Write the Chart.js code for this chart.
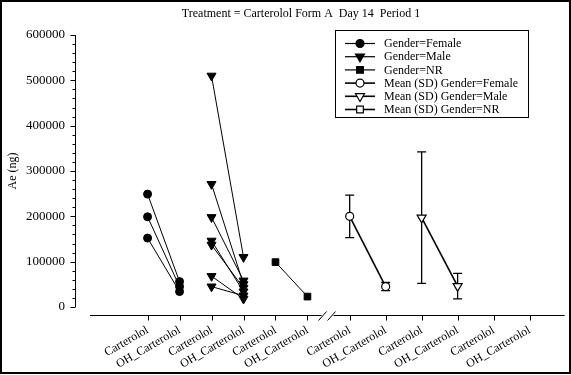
<!DOCTYPE html>
<html>
<head>
<meta charset="utf-8">
<script src="https://cdn.jsdelivr.net/npm/chart.js@4.4.1/dist/chart.umd.min.js"></script>
<style>
  html, body { margin: 0; padding: 0; background: #ffffff; }
  canvas { display: block; }
</style>
</head>
<body>
<canvas id="chartAe" width="571" height="375"></canvas>
<script>
// ============================================================
// DATA
// ============================================================
const titleText = 'Treatment = Carterolol Form A  Day 14  Period 1';
const yTitle = 'Ae (ng)';
const xLabels = ['Carterolol', 'OH_Carterolol'];
const genders = ['Female', 'Male', 'NR'];

// individual subjects (Carterolol -> OH_Carterolol)
const femaleCarterolol = [249000, 199000, 152000];
const femaleOH = [56000, 45000, 34000];
const maleCarterolol = [510000, 271000, 198000, 146000, 137000, 68000, 45000];
const maleOH = [110000, 50000, 58000, 34000, 42000, 18000, 25000];
const nrCarterolol = [99000];
const nrOH = [23000];

// mean (SD) per gender
const meanFemale = [200000, 45000];
const sdFemale = [47000, 9000];
const meanMale = [197000, 46000];
const sdMale = [145000, 28000];
const meanNR = [];
const sdNR = [];

const yTicks = [0, 100000, 200000, 300000, 400000, 500000, 600000];

// ============================================================
// LAYOUT HELPERS
// ============================================================
const FONT = "'Liberation Serif', 'Times New Roman', serif";
const markerStyle = ['circle', 'triangle', 'rect'];
const markerRot = [0, 180, 0];
const markerRad = [4, 5.2, 4.7];

// slot positions along the x axis: left panel, then the panel after the break
let leftSlots = [0, 1, 2, 3, 4, 5].map(i => 1 + i);
let rightSlots = [0, 1, 2, 3, 4, 5].map(i => 7.32 + i * 1.125);
let allSlots = leftSlots.concat(rightSlots);

let individual = [
    [femaleCarterolol, femaleOH],
    [maleCarterolol, maleOH],
    [nrCarterolol, nrOH]
];
let means = [meanFemale, meanMale, meanNR];
let sds = [sdFemale, sdMale, sdNR];

let datasets = [];
individual.forEach((pair, g) => {
    pair[0].forEach((v, i) => {
        datasets.push({
            data: [{ x: leftSlots[g * 2], y: v }, { x: leftSlots[g * 2 + 1], y: pair[1][i] }],
            showLine: true,
            borderColor: '#000000',
            borderWidth: 1,
            pointStyle: markerStyle[g],
            rotation: markerRot[g],
            pointRadius: markerRad[g],
            pointBackgroundColor: '#000000',
            pointBorderColor: '#000000',
            pointBorderWidth: 1
        });
    });
});
means.forEach((m, g) => {
    if (m.length === 0) return;
    datasets.push({
        data: m.map((v, k) => ({ x: rightSlots[g * 2 + k], y: v })),
        sd: sds[g],
        isMean: true,
        showLine: true,
        borderColor: '#000000',
        borderWidth: 1.6,
        pointStyle: markerStyle[g],
        rotation: markerRot[g],
        pointRadius: markerRad[g],
        pointBackgroundColor: '#ffffff',
        pointBorderColor: '#000000',
        pointBorderWidth: 1.2
    });
});

// ============================================================
// PLUGINS
// ============================================================
function drawMarker(ctx, style, x, y, r, filled) {
    ctx.beginPath();
    if (style === 'circle') {
        ctx.arc(x, y, r, 0, Math.PI * 2);
    } else if (style === 'triangle') {
        let h = r;
        ctx.moveTo(x, y + h);
        ctx.lineTo(x - h * 0.866, y - h * 0.5);
        ctx.lineTo(x + h * 0.866, y - h * 0.5);
        ctx.closePath();
    } else {
        let s = r * Math.SQRT1_2;
        ctx.rect(x - s, y - s, 2 * s, 2 * s);
    }
    ctx.fillStyle = filled ? '#000000' : '#ffffff';
    ctx.fill();
    ctx.lineWidth = 1.2;
    ctx.strokeStyle = '#000000';
    ctx.stroke();
}

const errorBars = {
    id: 'errorBars',
    beforeDatasetsDraw(chart) {
        let ctx = chart.ctx;
        let ys = chart.scales.y;
        ctx.save();
        ctx.strokeStyle = '#000000';
        ctx.lineWidth = 1.3;
        chart.data.datasets.forEach((ds, di) => {
            if (!ds.isMean) return;
            let meta = chart.getDatasetMeta(di);
            meta.data.forEach((pt, k) => {
                let top = ys.getPixelForValue(ds.data[k].y + ds.sd[k]);
                let bot = ys.getPixelForValue(ds.data[k].y - ds.sd[k]);
                ctx.beginPath();
                ctx.moveTo(pt.x, top); ctx.lineTo(pt.x, bot);
                ctx.moveTo(pt.x - 4.5, top); ctx.lineTo(pt.x + 4.5, top);
                ctx.moveTo(pt.x - 4.5, bot); ctx.lineTo(pt.x + 4.5, bot);
                ctx.stroke();
            });
        });
        ctx.restore();
    }
};

const sigmaFrame = {
    id: 'sigmaFrame',
    afterDraw(chart) {
        let ctx = chart.ctx;
        let xs = chart.scales.x, ys = chart.scales.y;
        let area = chart.chartArea;
        ctx.save();
        ctx.strokeStyle = '#000000';
        ctx.fillStyle = '#000000';

        // outer frame
        ctx.lineWidth = 2;
        ctx.strokeRect(1, 1, 569, 372);

        // title
        ctx.font = '12px ' + FONT;
        ctx.textAlign = 'center';
        ctx.textBaseline = 'middle';
        ctx.fillText(titleText, 301, 14);

        // y axis (offset to the left of the plot)
        ctx.lineWidth = 1;
        let axX = 75.5;
        let yTop = ys.getPixelForValue(yTicks[yTicks.length - 1]);
        let yBot = ys.getPixelForValue(yTicks[0]);
        ctx.beginPath();
        ctx.moveTo(axX, yTop); ctx.lineTo(axX, yBot);
        for (let v = yTicks[0]; v <= yTicks[yTicks.length - 1]; v += 20000) {
            let py = Math.round(ys.getPixelForValue(v)) + 0.5;
            let len = (v % 100000 === 0) ? 5 : 3;
            ctx.moveTo(axX, py); ctx.lineTo(axX - len, py);
        }
        ctx.stroke();

        // x axis (offset below the plot) with a break
        let axY = area.bottom + 8.5;
        let brk = (xs.getPixelForValue(leftSlots[5]) + xs.getPixelForValue(rightSlots[0])) / 2 - 1;
        ctx.beginPath();
        ctx.moveTo(area.left, axY); ctx.lineTo(brk - 6, axY);
        ctx.moveTo(brk + 6, axY); ctx.lineTo(area.right, axY);
        allSlots.forEach(v => {
            let px = Math.round(xs.getPixelForValue(v)) + 0.5;
            ctx.moveTo(px, axY); ctx.lineTo(px, axY + 5);
        });
        ctx.moveTo(brk - 9, axY + 5); ctx.lineTo(brk - 1, axY - 4);
        ctx.moveTo(brk, axY + 5); ctx.lineTo(brk + 8, axY - 4);
        ctx.stroke();

        // legend
        let lx = 335.5, ly = 30.5, lw = 193, lh = 87;
        ctx.lineWidth = 1;
        ctx.fillStyle = '#ffffff';
        ctx.fillRect(lx, ly, lw, lh);
        ctx.strokeRect(lx, ly, lw, lh);
        let entries = [];
        genders.forEach((g, i) => entries.push({ text: 'Gender=' + g, g: i, filled: true }));
        genders.forEach((g, i) => entries.push({ text: 'Mean (SD) Gender=' + g, g: i, filled: false }));
        ctx.font = '12px ' + FONT;
        ctx.textAlign = 'left';
        ctx.textBaseline = 'middle';
        entries.forEach((e, i) => {
            let ry = ly + 13 + i * 13.2;
            ctx.strokeStyle = '#000000';
            ctx.lineWidth = e.filled ? 1.2 : 1.6;
            ctx.beginPath();
            ctx.moveTo(345, ry); ctx.lineTo(375, ry);
            ctx.stroke();
            drawMarker(ctx, markerStyle[e.g], 360, ry, markerRad[e.g], e.filled);
            ctx.fillStyle = '#000000';
            ctx.fillText(e.text, 384, ry + 0.5);
        });
        ctx.restore();
    }
};

// ============================================================
// CHART
// ============================================================
Chart.defaults.font.family = FONT;
Chart.defaults.color = '#000000';

new Chart(document.getElementById('chartAe').getContext('2d'), {
    type: 'scatter',
    data: { datasets: datasets },
    options: {
        responsive: false,
        animation: false,
        devicePixelRatio: 1,
        layout: { padding: { left: 0, right: 6, top: 35, bottom: 0 } },
        plugins: {
            legend: { display: false },
            tooltip: { enabled: false },
            title: { display: false }
        },
        scales: {
            x: {
                type: 'linear',
                min: -0.8,
                max: 14.04,
                grid: { display: false, drawTicks: false },
                border: { display: false },
                afterBuildTicks: (scale) => { scale.ticks = allSlots.map(v => ({ value: v })); },
                afterFit: (scale) => { scale.height = 68; },
                ticks: {
                    autoSkip: false,
                    minRotation: 30,
                    maxRotation: 30,
                    padding: 16,
                    font: { size: 12 },
                    callback: (value, index) => xLabels[index % 2]
                }
            },
            y: {
                min: yTicks[0],
                max: yTicks[yTicks.length - 1],
                grid: { display: false, drawTicks: false },
                border: { display: false },
                afterFit: (scale) => { scale.width = 90; },
                title: {
                    display: true,
                    text: yTitle,
                    font: { size: 12 },
                    padding: { top: 6, bottom: 0 }
                },
                ticks: {
                    stepSize: 100000,
                    padding: 25,
                    font: { size: 13 },
                    callback: (v) => String(v)
                }
            }
        }
    },
    plugins: [errorBars, sigmaFrame]
});
</script>
</body>
</html>
